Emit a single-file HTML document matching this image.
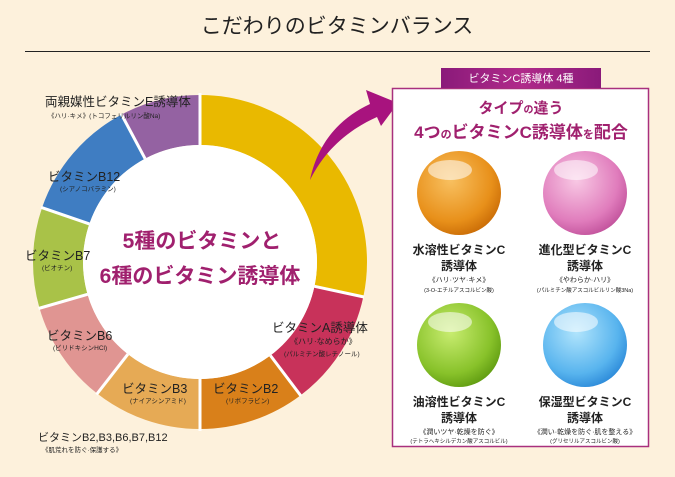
<!DOCTYPE html>
<html><head><meta charset="utf-8"><style>
body{margin:0;background:#fdf1dc;}
svg{display:block;font-family:"Liberation Sans","Noto Sans CJK JP",sans-serif;}
</style></head><body>
<svg width="675" height="477" viewBox="0 0 675 477" xmlns="http://www.w3.org/2000/svg">
<defs>
<radialGradient id="go" cx="0.4" cy="0.35" r="0.7"><stop offset="0" stop-color="#f8c060"/><stop offset="0.7" stop-color="#e8901a"/><stop offset="1" stop-color="#c86a05"/></radialGradient>
<radialGradient id="gp" cx="0.4" cy="0.35" r="0.7"><stop offset="0" stop-color="#f8c8e4"/><stop offset="0.7" stop-color="#e07cbc"/><stop offset="1" stop-color="#c0509a"/></radialGradient>
<radialGradient id="gg" cx="0.4" cy="0.35" r="0.7"><stop offset="0" stop-color="#c8ec70"/><stop offset="0.7" stop-color="#88c22a"/><stop offset="1" stop-color="#5e9a10"/></radialGradient>
<radialGradient id="gb" cx="0.4" cy="0.35" r="0.7"><stop offset="0" stop-color="#b0e4fc"/><stop offset="0.7" stop-color="#58b4ee"/><stop offset="1" stop-color="#2a88d8"/></radialGradient>
<linearGradient id="tab" x1="0" x2="1"><stop offset="0" stop-color="#8a1a7a"/><stop offset="0.5" stop-color="#b02a8a"/><stop offset="1" stop-color="#8a1a7a"/></linearGradient>
</defs>
<rect width="675" height="477" fill="#fdf1dc"/>
<text x="337" y="33" font-size="21" text-anchor="middle" fill="#222">こだわりのビタミンバランス</text>
<line x1="25" y1="51.5" x2="650" y2="51.5" stroke="#222" stroke-width="1"/>

<g transform="rotate(-90 200 262)" fill="none" stroke-width="50">
<circle cx="200" cy="262" r="142" stroke="#e9b900" stroke-dasharray="252.8 892.2" stroke-dashoffset="0"/>
<circle cx="200" cy="262" r="142" stroke="#c8325a" stroke-dasharray="101.6 892.2" stroke-dashoffset="-252.8"/>
<circle cx="200" cy="262" r="142" stroke="#d9801a" stroke-dasharray="91.7 892.2" stroke-dashoffset="-354.4"/>
<circle cx="200" cy="262" r="142" stroke="#e6aa55" stroke-dasharray="94.2 892.2" stroke-dashoffset="-446.1"/>
<circle cx="200" cy="262" r="142" stroke="#e09592" stroke-dasharray="89.2 892.2" stroke-dashoffset="-540.3"/>
<circle cx="200" cy="262" r="142" stroke="#a9c248" stroke-dasharray="86.7 892.2" stroke-dashoffset="-629.5"/>
<circle cx="200" cy="262" r="142" stroke="#3f7dc2" stroke-dasharray="106.6 892.2" stroke-dashoffset="-716.2"/>
<circle cx="200" cy="262" r="142" stroke="#9462a2" stroke-dasharray="69.4 892.2" stroke-dashoffset="-822.8"/>
</g>
<circle cx="200" cy="262" r="117" fill="#fff"/>
<g stroke="#fff" stroke-width="3">
<line x1="200" y1="145" x2="200" y2="93"/>
<line x1="314.4" y1="286.3" x2="364" y2="297"/>
<line x1="270.4" y1="355.5" x2="301" y2="396"/>
<line x1="200" y1="379" x2="200" y2="431"/>
<line x1="127.9" y1="354.2" x2="96.5" y2="394.5"/>
<line x1="87.6" y1="294.3" x2="38.5" y2="308.5"/>
<line x1="89.4" y1="223.9" x2="41" y2="207.3"/>
<line x1="145.1" y1="158.7" x2="121" y2="113.5"/>
</g>
<g fill="#a0206e" font-weight="bold" font-size="21" text-anchor="middle">
<text x="202" y="248">5種のビタミンと</text>
<text x="200" y="283">6種のビタミン誘導体</text>
</g>
<g fill="#222" font-size="12.5">
<text x="45" y="106">両親媒性ビタミンE誘導体</text>
<text x="48" y="181">ビタミンB12</text>
<text x="25" y="260">ビタミンB7</text>
<text x="47" y="340">ビタミンB6</text>
<text x="122" y="393">ビタミンB3</text>
<text x="213" y="393">ビタミンB2</text>
<text x="272" y="332">ビタミンA誘導体</text>
<text x="38" y="441" font-size="11">ビタミンB2,B3,B6,B7,B12</text>
</g>
<g fill="#222" font-size="6.5">
<text x="48" y="118">《ハリ·キメ》(トコフェリルリン酸Na)</text>
<text x="60" y="191">(シアノコバラミン)</text>
<text x="42" y="270">(ビオチン)</text>
<text x="53" y="350">(ビリドキシンHCl)</text>
<text x="130" y="403">(ナイアシンアミド)</text>
<text x="226" y="403">(リボフラビン)</text>
<text x="290" y="344" font-size="8">《ハリ·なめらか》</text>
<text x="284" y="356">(パルミチン酸レチノール)</text>
<text x="42" y="452">《肌荒れを防ぐ·保護する》</text>
</g>

<path d="M310 180 C318 142 340 118 370 104 L366 90 L398 103 L381 126 L377 117 C348 130 325 150 310 180 Z" fill="#a8137e"/>

<rect x="392.5" y="88.5" width="256" height="358" fill="#fff" stroke="#a8307e" stroke-width="1.5"/>
<rect x="441" y="68" width="160" height="20" fill="url(#tab)"/>
<text x="521" y="82" font-size="11" fill="#fff" text-anchor="middle">ビタミンC誘導体 4種</text>
<g fill="#a0206e" font-weight="bold" text-anchor="middle">
<text x="521" y="113" font-size="15">タイプ<tspan font-size="10">の</tspan>違う</text>
<text x="521" y="138" font-size="17">4つ<tspan font-size="11">の</tspan>ビタミンC誘導体<tspan font-size="11">を</tspan>配合</text>
</g>
<circle cx="459" cy="193" r="42" fill="url(#go)"/>
<circle cx="585" cy="193" r="42" fill="url(#gp)"/>
<circle cx="459" cy="345" r="42" fill="url(#gg)"/>
<circle cx="585" cy="345" r="42" fill="url(#gb)"/>
<g fill="#fff" opacity="0.55">
<ellipse cx="450" cy="170" rx="22" ry="10"/><ellipse cx="576" cy="170" rx="22" ry="10"/>
<ellipse cx="450" cy="322" rx="22" ry="10"/><ellipse cx="576" cy="322" rx="22" ry="10"/>
</g>
<g fill="#222" font-size="12" font-weight="bold" text-anchor="middle">
<text x="459" y="254">水溶性ビタミンC</text><text x="459" y="270">誘導体</text>
<text x="585" y="254">進化型ビタミンC</text><text x="585" y="270">誘導体</text>
<text x="459" y="406">油溶性ビタミンC</text><text x="459" y="422">誘導体</text>
<text x="585" y="406">保湿型ビタミンC</text><text x="585" y="422">誘導体</text>
</g>
<g fill="#222" font-size="7" text-anchor="middle">
<text x="459" y="282">《ハリ·ツヤ·キメ》</text><text x="585" y="282">《やわらか·ハリ》</text>
<text x="459" y="434">《潤いツヤ·乾燥を防ぐ》</text><text x="585" y="434">《潤い·乾燥を防ぐ·肌を整える》</text>
</g>
<g fill="#222" font-size="5.5" text-anchor="middle">
<text x="459" y="292">(3-O-エチルアスコルビン酸)</text><text x="585" y="292">(パルミチン酸アスコルビルリン酸3Na)</text>
<text x="459" y="443">(テトラヘキシルデカン酸アスコルビル)</text><text x="585" y="443">(グリセリルアスコルビン酸)</text>
</g>
</svg>
</body></html>
